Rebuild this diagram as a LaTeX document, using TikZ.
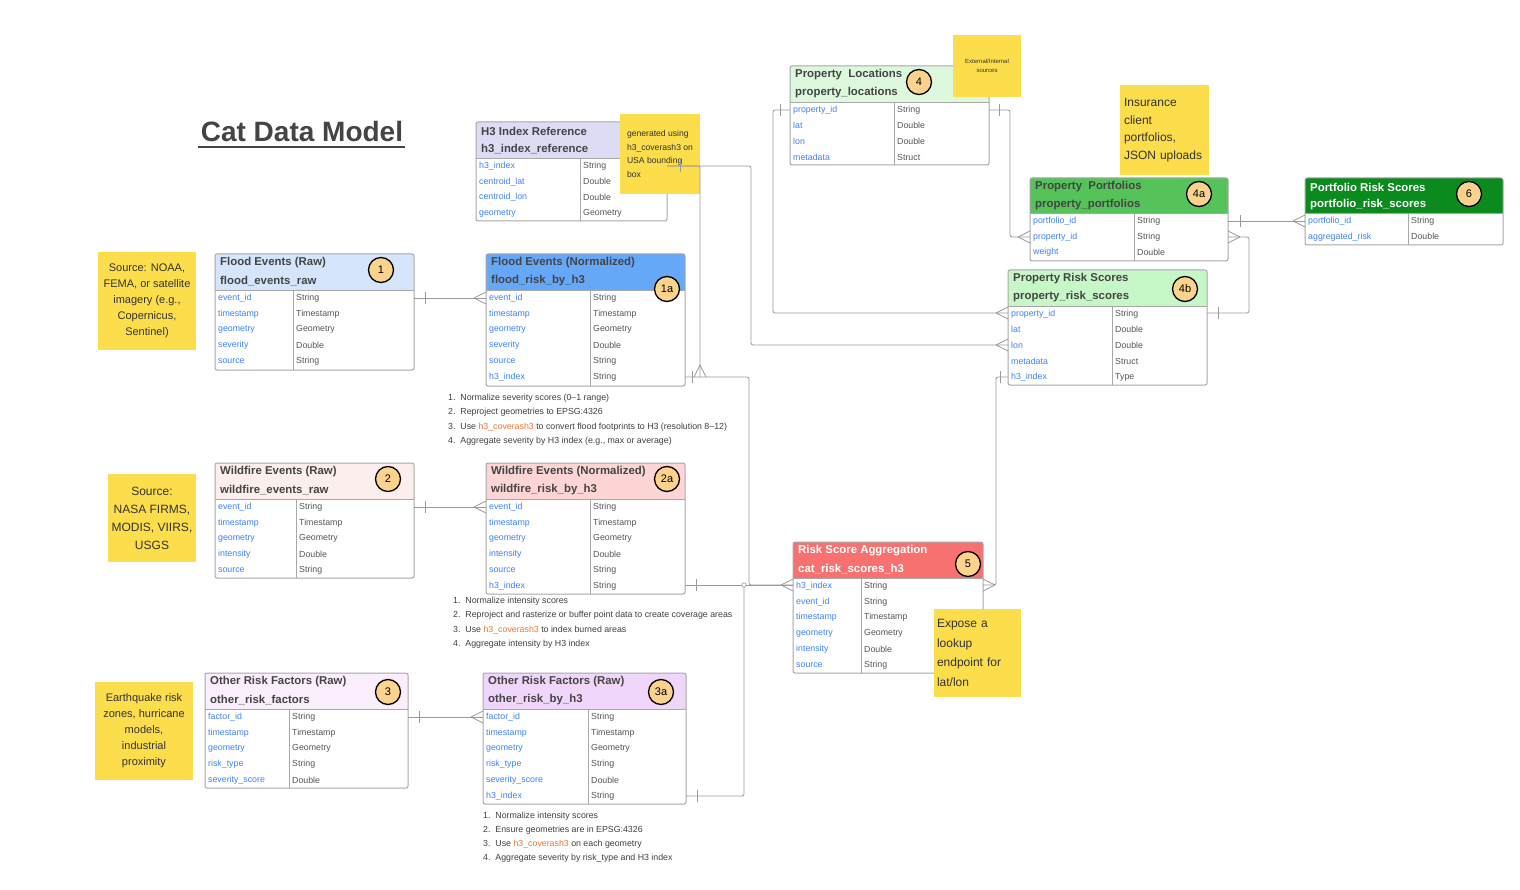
\documentclass[tikz,border=0pt]{standalone}
\usepackage{fontspec}
\setmainfont{Liberation Sans}
\usetikzlibrary{calc}
\definecolor{stk}{HTML}{FCDD4B}
\definecolor{fld}{HTML}{3B82F6}
\definecolor{typ}{HTML}{555555}
\definecolor{brd}{HTML}{A8A8A8}
\definecolor{ttl}{HTML}{444444}
\definecolor{org}{HTML}{E8793A}
\definecolor{bdg}{HTML}{FCD38D}
\definecolor{conn}{HTML}{9A9A9A}
\tikzset{
  fldf/.style={anchor=west,inner sep=0pt,text=fld,font=\fontsize{8.8}{9}\selectfont},
  typf/.style={anchor=west,inner sep=0pt,text=typ,font=\fontsize{8.8}{9}\selectfont},
  titf/.style={anchor=west,inner sep=0pt,font=\bfseries\fontsize{11.4}{12}\selectfont},
  badge/.style={circle,draw=black,line width=1.3pt,fill=bdg,minimum size=25pt,inner sep=0pt,font=\fontsize{11}{12}\selectfont},
  sticky/.style={fill=stk,draw=none,align=center,inner sep=3pt,text=black!80},
  note/.style={anchor=west,inner sep=0pt,text=black!75,font=\fontsize{8.8}{9}\selectfont},
  con/.style={draw=conn,line width=0.8pt,rounded corners=2pt},
  tk/.style={draw=conn,line width=0.8pt}
}
\newcommand\tblhead[9]{%
  \definecolor{hd#1}{HTML}{#6}%
  \fill[hd#1,rounded corners=2pt] (#2,#3) rectangle (#4,#5);
  \fill[hd#1] (#2,#5-4) rectangle (#4,#5);
  \node[titf,text=#7] (#1t) at (#2+5,#3+9) {#8};
  \node[titf,text=#7] (#1n) at (#2+5,#3+27) {#9};
}
\newcommand\tblrows[6]{%
  \foreach \n/\t [count=\i] in {#6} {
    \node[fldf] at (#1+3,#4+8+\i*15.8-15.8) {\n};
    \node[typf] at (#3+3,#4+8+\i*15.8-15.8) {\t};
  }
  \draw[brd,line width=0.8pt] (#1,#4) -- (#2,#4);
  \draw[brd,line width=0.8pt] (#3,#4) -- (#3,#5);
}
\newcommand\tblframe[4]{\draw[brd,line width=1pt,rounded corners=2pt] (#1,#2) rectangle (#3,#4);}
\newcommand\crowL[2]{\draw[tk] (#1-12,#2) -- (#1,#2-6) (#1-12,#2) -- (#1,#2+6);}
\newcommand\crowR[2]{\draw[tk] (#1+12,#2) -- (#1,#2-6) (#1+12,#2) -- (#1,#2+6);}
\newcommand\crowD[2]{\draw[tk] (#1,#2-12) -- (#1-6,#2) (#1,#2-12) -- (#1+6,#2);}
\newcommand\barV[2]{\draw[tk] (#1,#2-6) -- (#1,#2+6);}
\begin{document}
\begin{tikzpicture}[x=1pt,y=-1pt]
\useasboundingbox (0,0) rectangle (1520,890);
\fill[white] (0,0) rectangle (1520,890);

\node[font=\bfseries\fontsize{28}{30}\selectfont,text=ttl,inner sep=0pt] (title) at (302,131) {Cat Data Model};
\draw[ttl,line width=1.5pt] (198,147) -- (405,147);

\tblhead{h3}{476}{122}{667}{158}{DCDCF5}{ttl}{H3 Index Reference}{h3\_index\_reference}
\tblrows{476}{667}{580}{158}{221}{h3\_index/String,centroid\_lat/Double,centroid\_lon/Double,geometry/Geometry}
\tblframe{476}{122}{667}{221}
\tblhead{ta}{215}{254}{414}{290}{D5E6FC}{ttl}{Flood Events (Raw)}{flood\_events\_raw}
\tblrows{215}{414}{293}{290}{370}{event\_id/String,timestamp/Timestamp,geometry/Geometry,severity/Double,source/String}
\tblframe{215}{254}{414}{370}
\node[badge] (b1) at (381,270) {1};
\tblhead{tb}{486}{254}{685}{290}{66A8F8}{ttl}{Flood Events (Normalized)}{flood\_risk\_by\_h3}
\tblrows{486}{685}{590}{290}{386}{event\_id/String,timestamp/Timestamp,geometry/Geometry,severity/Double,source/String,h3\_index/String}
\tblframe{486}{254}{685}{386}
\node[badge] (b1a) at (667,289) {1a};
\tblhead{tc}{215}{463}{414}{499}{FDEEEE}{ttl}{Wildfire Events (Raw)}{wildfire\_events\_raw}
\tblrows{215}{414}{296}{499}{578}{event\_id/String,timestamp/Timestamp,geometry/Geometry,intensity/Double,source/String}
\tblframe{215}{463}{414}{578}
\node[badge] (b2) at (388,479) {2};
\tblhead{td}{486}{463}{685}{499}{FDD5D5}{ttl}{Wildfire Events (Normalized)}{wildfire\_risk\_by\_h3}
\tblrows{486}{685}{590}{499}{594}{event\_id/String,timestamp/Timestamp,geometry/Geometry,intensity/Double,source/String,h3\_index/String}
\tblframe{486}{463}{685}{594}
\node[badge] (b2a) at (667,479) {2a};
\tblhead{te}{205}{673}{408}{709}{FBEEFC}{ttl}{Other Risk Factors (Raw)}{other\_risk\_factors}
\tblrows{205}{408}{289}{709}{788}{factor\_id/String,timestamp/Timestamp,geometry/Geometry,risk\_type/String,severity\_score/Double}
\tblframe{205}{673}{408}{788}
\node[badge] (b3) at (388,692) {3};
\tblhead{tf}{483}{673}{686}{709}{F1D6FB}{ttl}{Other Risk Factors (Raw)}{other\_risk\_by\_h3}
\tblrows{483}{686}{588}{709}{804}{factor\_id/String,timestamp/Timestamp,geometry/Geometry,risk\_type/String,severity\_score/Double,h3\_index/String}
\tblframe{483}{673}{686}{804}
\node[badge] (b3a) at (661,692) {3a};
\tblhead{tg}{790}{66}{989}{102}{DDF8DD}{ttl}{Property\ \ Locations}{property\_locations}
\tblrows{790}{989}{894}{102}{165}{property\_id/String,lat/Double,lon/Double,metadata/Struct}
\tblframe{790}{66}{989}{165}
\node[badge] (b4) at (919,82) {4};
\tblhead{th}{1030}{178}{1228}{213}{55C35A}{ttl}{Property\ \ Portfolios}{property\_portfolios}
\tblrows{1030}{1228}{1134}{213}{261}{portfolio\_id/String,property\_id/String,weight/Double}
\tblframe{1030}{178}{1228}{261}
\node[badge] (b4a) at (1199,194) {4a};
\tblhead{ti}{1008}{270}{1207}{306}{C7F6C7}{ttl}{Property Risk Scores}{property\_risk\_scores}
\tblrows{1008}{1207}{1112}{306}{385}{property\_id/String,lat/Double,lon/Double,metadata/Struct,h3\_index/Type}
\tblframe{1008}{270}{1207}{385}
\node[badge] (b4b) at (1185,289) {4b};
\tblhead{tj}{793}{542}{983}{578}{F87171}{white}{Risk Score Aggregation}{cat\_risk\_scores\_h3}
\tblrows{793}{983}{861}{578}{673}{h3\_index/String,event\_id/String,timestamp/Timestamp,geometry/Geometry,intensity/Double,source/String}
\tblframe{793}{542}{983}{673}
\node[badge] (b5) at (968,564) {5};
\tblhead{tk}{1305}{178}{1503}{213}{0B8A1E}{white}{Portfolio Risk Scores}{portfolio\_risk\_scores}
\tblrows{1305}{1503}{1408}{213}{245}{portfolio\_id/String,aggregated\_risk/Double}
\tblframe{1305}{178}{1503}{245}
\node[badge] (b6) at (1469,194) {6};

\node[sticky,minimum width=98pt,minimum height=98pt,font=\fontsize{11}{16}\selectfont] (s1) at (147,301) {Source: NOAA,\\FEMA, or satellite\\imagery (e.g.,\\Copernicus,\\Sentinel)};
\node[sticky,minimum width=88pt,minimum height=88pt,font=\fontsize{12}{18}\selectfont] (s2) at (152,518) {Source:\\NASA FIRMS,\\MODIS, VIIRS,\\USGS};
\node[sticky,minimum width=98pt,minimum height=98pt,font=\fontsize{11}{16}\selectfont] (s3) at (144,731) {Earthquake risk\\zones, hurricane\\models,\\industrial\\proximity};
\node[sticky,minimum width=80pt,minimum height=80pt,align=left,font=\fontsize{8.6}{13.5}\selectfont] (s4) at (660,154) {generated using\\h3\_coverash3 on\\USA bounding\\box};
\node[sticky,minimum width=68pt,minimum height=62pt,font=\fontsize{6}{9}\selectfont] (s5) at (987,66) {External/Internal\\sources};
\node[sticky,minimum width=89pt,minimum height=90pt,align=left,text width=80pt,font=\fontsize{12}{17.5}\selectfont] (s6) at (1164,130) {Insurance\\client\\portfolios,\\JSON uploads};
\node[sticky,minimum width=87pt,minimum height=88pt,align=left,text width=80pt,font=\fontsize{12}{19.5}\selectfont] (s7) at (977,653) {Expose a\\lookup\\endpoint for\\lat/lon};

\foreach \t [count=\i] in {{1.\ \ Normalize severity scores (0--1 range)},{2.\ \ Reproject geometries to EPSG:4326},{3.\ \ Use \textcolor{org}{h3\_coverash3} to convert flood footprints to H3 (resolution 8--12)},{4.\ \ Aggregate severity by H3 index (e.g., max or average)}}
  \node[note] at (448,398+\i*14.4-14.4) {\t};
\foreach \t [count=\i] in {{1.\ \ Normalize intensity scores},{2.\ \ Reproject and rasterize or buffer point data to create coverage areas},{3.\ \ Use \textcolor{org}{h3\_coverash3} to index burned areas},{4.\ \ Aggregate intensity by H3 index}}
  \node[note] at (453,601+\i*14.4-14.4) {\t};
\foreach \t [count=\i] in {{1.\ \ Normalize intensity scores},{2.\ \ Ensure geometries are in EPSG:4326},{3.\ \ Use \textcolor{org}{h3\_coverash3} on each geometry},{4.\ \ Aggregate severity by risk\_type and H3 index}}
  \node[note] at (483,816+\i*14.2-14.2) {\t};

\coordinate (ta1) at (414,298); \coordinate (tb1) at (486,298);
\draw[con] (ta1) -- (tb1); \barV{425}{298} \crowL{486}{298}
\coordinate (tc1) at (414,507); \coordinate (td1) at (486,507);
\draw[con] (tc1) -- (td1); \barV{425}{507} \crowL{486}{507}
\coordinate (te1) at (408,717); \coordinate (tf1) at (483,717);
\draw[con] (te1) -- (tf1); \barV{419}{717} \crowL{483}{717}
\coordinate (h3a) at (667,166); \coordinate (tb6) at (700,377);
\draw[con] (h3a) -- (700,166) -- (tb6); \crowD{700}{377}
\barV{680}{166}
\coordinate (ti3) at (1008,345);
\draw[con] (h3a) -- (751,166) -- (751,345) -- (ti3); \crowL{1008}{345}
\coordinate (tb6r) at (685,377); \coordinate (tj1) at (793,585);
\draw[con] (tb6r) -- (749,377) -- (749,585) -- (tj1); \barV{692}{377} \crowL{793}{585}
\coordinate (td6) at (685,585);
\draw[con] (td6) -- (tj1); \barV{696}{585}
\coordinate (tf6) at (686,796);
\draw[con] (tf6) -- (744,796) -- (744,585); \barV{697}{796}
\draw[conn,fill=white,line width=0.6pt] (744,585) circle (2.2pt);
\coordinate (tg1) at (790,110); \coordinate (ti1) at (1008,313);
\draw[con] (tg1) -- (773,110) -- (773,313) -- (ti1); \barV{780}{110} \crowL{1008}{313}
\coordinate (tg1r) at (989,110); \coordinate (th2) at (1030,237);
\draw[con] (tg1r) -- (1010,110) -- (1010,237) -- (th2); \barV{999}{110} \crowL{1030}{237}
\coordinate (th1) at (1228,221); \coordinate (tk1) at (1305,221);
\draw[con] (th1) -- (tk1); \barV{1240}{221} \crowL{1305}{221}
\coordinate (th2r) at (1228,237); \coordinate (ti1r) at (1207,313);
\draw[con] (th2r) -- (1249,237) -- (1249,313) -- (ti1r); \crowR{1228}{237} \barV{1218}{313}
\coordinate (ti5) at (1008,377); \coordinate (tj1r) at (983,585);
\draw[con] (ti5) -- (996,377) -- (996,585) -- (tj1r); \barV{1000}{377} \crowR{983}{585}
\end{tikzpicture}
\end{document}
